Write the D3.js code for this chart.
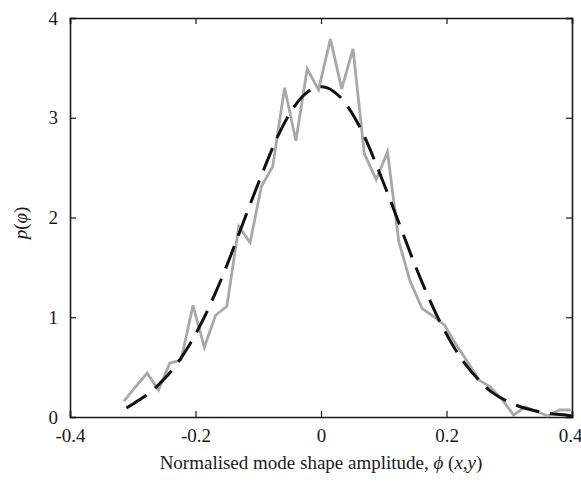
<!DOCTYPE html>
<html>
<head>
<meta charset="utf-8">
<script src="https://cdn.jsdelivr.net/npm/d3@7"></script>
<style>
  body { margin: 0; background: #fff; }
  svg text { font-family: "Liberation Serif", "DejaVu Serif", serif; }
</style>
</head>
<body>
<div id="chart"></div>
<script>
// histogram of the measured amplitudes (grey)
var binX = [-0.314, -0.296, -0.277, -0.259, -0.241, -0.223, -0.204, -0.186, -0.168, -0.150,
            -0.131, -0.113, -0.095, -0.077, -0.058, -0.040, -0.022, -0.004, 0.015, 0.033,
            0.051, 0.069, 0.088, 0.106, 0.124, 0.142, 0.161, 0.179, 0.197, 0.215,
            0.234, 0.252, 0.270, 0.288, 0.307, 0.325, 0.343, 0.361, 0.380, 0.398];
var histY = [0.16, 0.30, 0.44, 0.27, 0.54, 0.57, 1.12, 0.70, 1.02, 1.11,
             1.91, 1.75, 2.31, 2.51, 3.30, 2.77, 3.49, 3.28, 3.79, 3.29,
             3.69, 2.64, 2.38, 2.66, 1.76, 1.36, 1.09, 1.01, 0.92, 0.73,
             0.55, 0.37, 0.30, 0.18, 0.02, 0.10, 0.06, 0.01, 0.07, 0.07];

// fitted density (black dashed)
var fitX = [-0.31, -0.29, -0.27, -0.25, -0.23, -0.21, -0.19, -0.17, -0.15, -0.13,
            -0.11, -0.09, -0.07, -0.05, -0.03, -0.01, 0.01, 0.03, 0.05, 0.07,
            0.09, 0.11, 0.13, 0.15, 0.17, 0.19, 0.21, 0.23, 0.25, 0.27,
            0.29, 0.31, 0.33, 0.35, 0.37, 0.39, 0.40];
var fitY = [0.09, 0.17, 0.26, 0.38, 0.53, 0.72, 0.95, 1.22, 1.52, 1.85,
            2.18, 2.50, 2.80, 3.04, 3.21, 3.30, 3.30, 3.21, 3.04, 2.80,
            2.50, 2.18, 1.85, 1.52, 1.22, 0.95, 0.72, 0.53, 0.38, 0.26,
            0.18, 0.12, 0.08, 0.05, 0.03, 0.02, 0.01];

var xTicks = [-0.4, -0.2, 0, 0.2, 0.4];
var yTicks = [0, 1, 2, 3, 4];

var W = 581, H = 490;
var margin = {top: 18, right: 9, bottom: 73, left: 70},
    width = W - margin.left - margin.right,
    height = H - margin.top - margin.bottom;

var svg = d3.select('#chart').append('svg')
    .attr('width', W)
    .attr('height', H);

var g = svg.append('g')
    .attr('transform', 'translate(' + margin.left + ',' + margin.top + ')');

var x = d3.scaleLinear().domain([-0.4, 0.4]).range([0, width]);
var y = d3.scaleLinear().domain([0, 4]).range([height, 0]);

var fmt = function(d) { return d === 0 ? '0' : String(d); };
var tick = 6;

// axes with inward ticks on all four sides
g.append('g')
    .attr('class', 'x-axis')
    .attr('transform', 'translate(0,' + height + ')')
    .call(d3.axisBottom(x).tickValues(xTicks).tickFormat(fmt).tickSize(-tick).tickPadding(12));

g.append('g')
    .call(d3.axisTop(x).tickValues(xTicks).tickFormat('').tickSize(-tick));

g.append('g')
    .attr('class', 'y-axis')
    .call(d3.axisLeft(y).tickValues(yTicks).tickFormat(fmt).tickSize(-tick).tickPadding(12));

g.append('g')
    .attr('transform', 'translate(' + width + ',0)')
    .call(d3.axisRight(y).tickValues(yTicks).tickFormat('').tickSize(-tick));

g.selectAll('.domain')
    .attr('stroke', '#1a1a1a')
    .attr('stroke-width', 1.6);
g.selectAll('.tick line')
    .attr('stroke', '#1a1a1a')
    .attr('stroke-width', 1.2);
g.selectAll('.tick text')
    .attr('font-size', '19px')
    .attr('fill', '#1a1a1a');

// last x label sits on the window edge: keep it inside
g.select('.x-axis').selectAll('.tick text')
    .filter(function(d) { return d === 0.4; })
    .attr('text-anchor', 'end')
    .attr('dx', 10);

// grey histogram line
var line = d3.line()
    .x(function(d) { return x(d[0]); })
    .y(function(d) { return y(d[1]); });

g.append('path')
    .datum(d3.zip(binX, histY))
    .attr('fill', 'none')
    .attr('stroke', '#a8a8a8')
    .attr('stroke-width', 2.8)
    .attr('d', line);

// dashed fit
var smooth = d3.line()
    .curve(d3.curveCatmullRom)
    .x(function(d) { return x(d[0]); })
    .y(function(d) { return y(d[1]); });

g.append('path')
    .datum(d3.zip(fitX, fitY))
    .attr('fill', 'none')
    .attr('stroke', '#111')
    .attr('stroke-width', 3)
    .attr('stroke-dasharray', '24,11')
    .attr('d', smooth);

// axis titles
var xt = svg.append('text')
    .attr('x', margin.left + width / 2)
    .attr('y', 469)
    .attr('text-anchor', 'middle')
    .attr('font-size', '19px')
    .attr('fill', '#1a1a1a');
xt.append('tspan').text('Normalised mode shape amplitude, ');
xt.append('tspan').attr('font-style', 'italic').text('\u03D5');
xt.append('tspan').text(' (');
xt.append('tspan').attr('font-style', 'italic').text('x');
xt.append('tspan').text(',');
xt.append('tspan').attr('font-style', 'italic').text('y');
xt.append('tspan').text(')');

var yt = svg.append('text')
    .attr('transform', 'translate(27,223) rotate(-90)')
    .attr('text-anchor', 'middle')
    .attr('font-size', '19px')
    .attr('fill', '#1a1a1a');
yt.append('tspan').attr('font-style', 'italic').text('p');
yt.append('tspan').text('(');
yt.append('tspan').attr('font-style', 'italic').text('\u03C6');
yt.append('tspan').text(')');
</script>
</body>
</html>
